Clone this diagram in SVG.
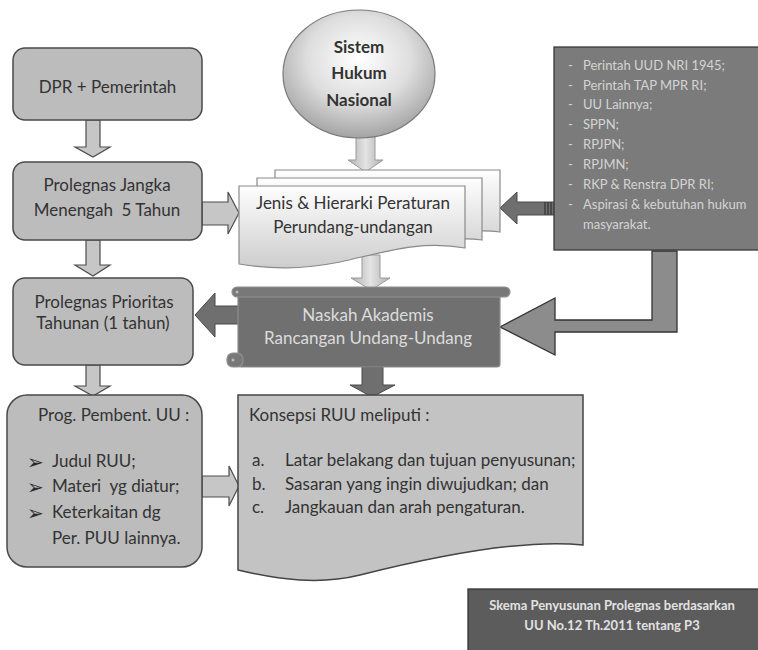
<svg xmlns="http://www.w3.org/2000/svg" width="758" height="650" viewBox="0 0 758 650">
<style>
.box{fill:#bcbcbc;stroke:#4a4a4a;stroke-width:1.5}
.t{font-family:Lato,"Liberation Sans",sans-serif;fill:#333333;font-size:17px;white-space:pre}
.tc{text-anchor:middle}
.la{fill:#c6c6c6;stroke:#4d4d4d;stroke-width:1.2}
.da{fill:#6f6f6f;stroke:#4a4a4a;stroke-width:1}
.doc{fill:url(#docg);stroke:#8a8a8a;stroke-width:1.2}
.lt{font-family:Lato,"Liberation Sans",sans-serif;fill:#d4d4d4;font-size:13px}
.w{font-family:Lato,"Liberation Sans",sans-serif;fill:#dcdcdc;font-size:17px;text-anchor:middle}
.bl{font-family:"DejaVu Sans",sans-serif;font-size:20px;fill:#2a2a2a}
</style>
<defs>
<radialGradient id="cg" cx="50%" cy="38%" r="62%">
<stop offset="0" stop-color="#ffffff"/>
<stop offset="0.55" stop-color="#dedede"/>
<stop offset="1" stop-color="#a4a4a4"/>
</radialGradient>
<linearGradient id="docg" x1="0" y1="0" x2="0" y2="1">
<stop offset="0" stop-color="#fefefe"/>
<stop offset="1" stop-color="#cdcdcd"/>
</linearGradient>
<linearGradient id="ag" x1="0" y1="0" x2="1" y2="0">
<stop offset="0" stop-color="#b0b0b0"/>
<stop offset="0.5" stop-color="#e4e4e4"/>
<stop offset="1" stop-color="#b0b0b0"/>
</linearGradient>
</defs>
<rect width="758" height="650" fill="#ffffff"/>

<g id="connectors">
<polygon class="la" points="86,120 100,120 100,147 110,147 93,157 75,147 86,147"/>
<polygon class="la" points="86,240 100,240 100,265 110,265 93,276 75,265 86,265"/>
<polygon class="la" points="86,365 100,365 100,386 110,386 93,396 75,386 86,386"/>
<polygon class="la" points="202,202 228,202 228,192 239,213 228,234 228,225 202,225"/>
<polygon class="la" points="202,476 229,476 229,466 239,486 229,506 229,497 202,497"/>
<polygon points="356,136 375,136 375,160 383,160 365.5,172 348,160 356,160" fill="url(#ag)" stroke="#9a9a9a" stroke-width="1"/>
<polygon points="362,255 380,255 380,278 390,278 371,290 351,278 362,278" fill="url(#ag)" stroke="#9a9a9a" stroke-width="1"/>
<polygon class="da" points="240,306 215,306 215,293 195,315 215,337 215,324 240,324"/>
<polygon class="da" points="362,367 383,367 383,385 395,385 372,397 350,385 362,385"/>
<polygon class="da" points="554,202 517,202 517,192 500,208 517,224 517,215 554,215"/>
<path d="M545,202V215M548,202V215M551,202V215" stroke="#333" stroke-width="1.2"/>
<polygon points="652,251 677,251 677,332 555,332 555,355 500,327 555,298 555,320 652,320" fill="#8c8c8c" stroke="#333" stroke-width="1.3"/>
</g>

<g id="dpr">
<rect class="box" x="13" y="48" width="189" height="72" rx="12"/>
<text class="t tc" x="107.5" y="93">DPR + Pemerintah</text>
</g>

<g id="prolegnas-jangka">
<rect class="box" x="13" y="162" width="189" height="78" rx="12"/>
<text class="t tc" x="107" y="191">Prolegnas Jangka</text>
<text class="t tc" x="107" y="216">Menengah  5 Tahun</text>
</g>

<g id="prolegnas-prioritas">
<rect class="box" x="13" y="278" width="180" height="87" rx="12"/>
<text class="t tc" x="104" y="308">Prolegnas Prioritas</text>
<text class="t tc" x="103" y="329">Tahunan (1 tahun)</text>
</g>

<g id="prog">
<rect class="box" x="7" y="395" width="195" height="172" rx="20"/>
<text class="t" x="38" y="421">Prog. Pembent. UU :</text>
<text class="bl" x="27" y="469">➢</text>
<text class="bl" x="27" y="494">➢</text>
<text class="bl" x="27" y="520">➢</text>
<text class="t" x="52" y="467">Judul RUU;</text>
<text class="t" x="52" y="492">Materi  yg diatur;</text>
<text class="t" x="52" y="518">Keterkaitan dg</text>
<text class="t" x="52" y="544">Per. PUU lainnya.</text>
</g>

<g id="sistem-hukum">
<ellipse cx="359" cy="74" rx="76" ry="64" fill="url(#cg)" stroke="#7a7a7a" stroke-width="1.2"/>
<text class="t tc" x="359" y="53" font-weight="bold" fill="#2e2e2e">Sistem</text>
<text class="t tc" x="359" y="79" font-weight="bold" fill="#2e2e2e">Hukum</text>
<text class="t tc" x="359" y="106" font-weight="bold" fill="#2e2e2e">Nasional</text>
</g>

<g id="jenis-hierarki">
<path class="doc" d="M275,170H500V232C470,228 440,236 400,244C360,252 320,252 275,246Z"/>
<path class="doc" d="M257,178H482V240C452,236 422,244 382,252C342,260 302,260 257,254Z"/>
<path class="doc" d="M239,186H465V248C420,240 385,252 340,262C300,270 270,269 239,264Z"/>
<text class="t tc" x="353" y="209">Jenis &amp; Hierarki Peraturan</text>
<text class="t tc" x="353" y="233">Perundang-undangan</text>
</g>

<g id="naskah-akademis">
<rect x="238" y="291" width="262" height="76" rx="3" fill="#707070" stroke="#8e8e8e" stroke-width="1.2"/>
<rect x="232" y="287" width="278" height="10" rx="5" fill="#787878" stroke="#909090" stroke-width="1.2"/>
<rect x="227" y="353" width="16" height="14" rx="6" fill="#787878" stroke="#909090" stroke-width="1.2"/>
<circle cx="237" cy="292" r="1.5" fill="#bbb"/>
<circle cx="233" cy="360" r="1.5" fill="#bbb"/>
<text class="w" x="368" y="321">Naskah Akademis</text>
<text class="w" x="368" y="344">Rancangan Undang-Undang</text>
</g>

<g id="daftar">
<rect x="554" y="47" width="210" height="203" fill="#7b7b7b" stroke="#3a3a3a" stroke-width="1.3"/>
<g class="lt">
<text x="568" y="70">-</text><text x="583" y="70">Perintah UUD NRI 1945;</text>
<text x="568" y="90">-</text><text x="583" y="90">Perintah TAP MPR RI;</text>
<text x="568" y="109">-</text><text x="583" y="109">UU Lainnya;</text>
<text x="568" y="129">-</text><text x="583" y="129">SPPN;</text>
<text x="568" y="149">-</text><text x="583" y="149">RPJPN;</text>
<text x="568" y="169">-</text><text x="583" y="169">RPJMN;</text>
<text x="568" y="189">-</text><text x="583" y="189">RKP &amp; Renstra DPR RI;</text>
<text x="568" y="209">-</text><text x="583" y="209">Aspirasi &amp; kebutuhan hukum</text>
<text x="583" y="229">masyarakat.</text>
</g>
</g>

<g id="konsepsi">
<path d="M238,395H583V545C520,538 420,560 360,575C320,585 280,580 238,570Z" fill="#c3c3c3" stroke="#444" stroke-width="1.5"/>
<text class="t" x="249" y="421" font-size="16">Konsepsi RUU meliputi :</text>
<text class="t" x="252" y="466" font-size="16">a.</text>
<text class="t" x="285" y="466" font-size="16">Latar belakang dan tujuan penyusunan;</text>
<text class="t" x="252" y="490" font-size="16">b.</text>
<text class="t" x="285" y="490" font-size="16">Sasaran yang ingin diwujudkan; dan</text>
<text class="t" x="252" y="513" font-size="16">c.</text>
<text class="t" x="285" y="513" font-size="16">Jangkauan dan arah pengaturan.</text>
</g>

<g id="caption">
<rect x="468" y="589" width="300" height="80" fill="#5c5c5c" stroke="#333" stroke-width="1.3"/>
<text x="612" y="610" font-family="Lato,'Liberation Sans',sans-serif" font-size="13" font-weight="bold" fill="#e2e2e2" text-anchor="middle">Skema Penyusunan Prolegnas berdasarkan</text>
<text x="612" y="630" font-family="Lato,'Liberation Sans',sans-serif" font-size="13" font-weight="bold" fill="#e2e2e2" text-anchor="middle">UU No.12 Th.2011 tentang P3</text>
</g>
</svg>
